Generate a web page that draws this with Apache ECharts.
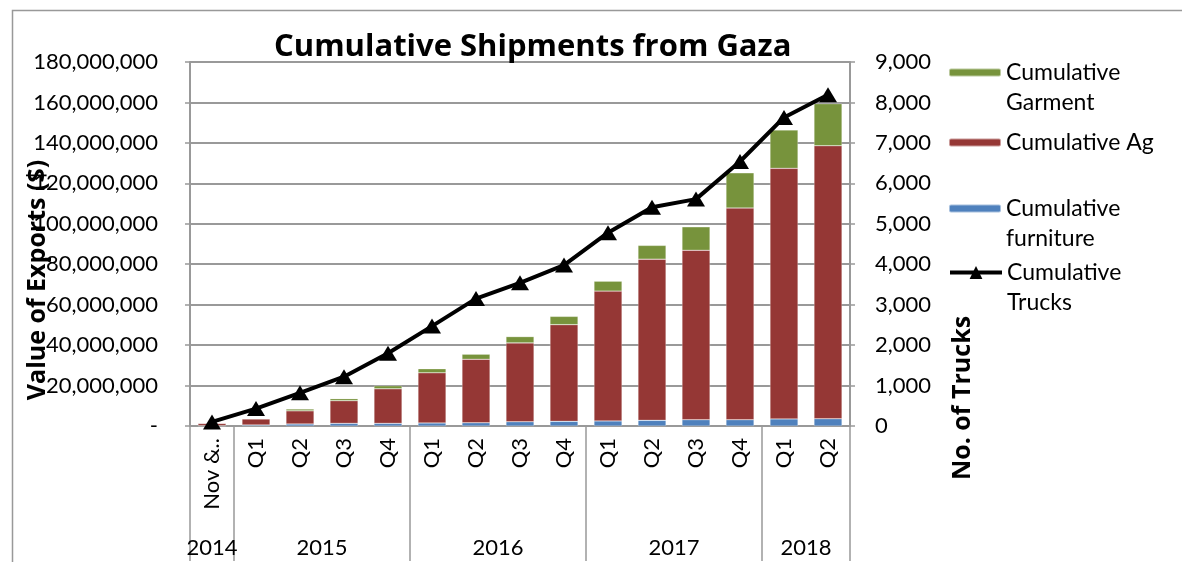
<!DOCTYPE html>
<html>
<head>
<meta charset="utf-8">
<title>Cumulative Shipments from Gaza</title>
<script src="https://cdn.jsdelivr.net/npm/echarts@6/dist/echarts.min.js"></script>
<style>
  html, body { margin: 0; padding: 0; background: #fff; }
  #chart { width: 1182px; height: 562px; }
</style>
</head>
<body>
<div id="chart"></div>
<script>
// quarters, grouped by year on a second axis row
const quarters = ["Nov & Dec", "Q1", "Q2", "Q3", "Q4", "Q1", "Q2", "Q3", "Q4", "Q1", "Q2", "Q3", "Q4", "Q1", "Q2"];
const years = ["2014", "2015", "2016", "2017", "2018"];
const yearFirstIndex = [0, 1, 5, 9, 13];
const yearSize = [1, 4, 4, 4, 2];

// values (USD)
const furniture = [200000, 500000, 1000000, 1300000, 1300000, 1500000, 1600000, 2100000, 2300000, 2500000, 2800000, 3100000, 3100000, 3500000, 3600000];
const ag = [1100000, 3000000, 6500000, 11200000, 17100000, 24800000, 31400000, 39000000, 47800000, 64200000, 79700000, 83800000, 104700000, 123900000, 135000000];
const garment = [100000, 100000, 900000, 1000000, 1500000, 2000000, 2500000, 3100000, 4100000, 4900000, 6800000, 11600000, 17400000, 19000000, 20800000];
const trucks = [100, 430, 820, 1220, 1800, 2470, 3150, 3540, 3980, 4780, 5410, 5610, 6540, 7630, 8190];

const GRID = "#999999";
const LABEL_FONT = "Lato";
const LEG_SIZE = 23;
const LEG_LINE = 30;

// year label sits at the middle of its group on a 0..15 value axis
const yearAt = {};
years.forEach((y, i) => {
  yearAt[yearFirstIndex[i] + yearSize[i] / 2] = y;
});

const chart = echarts.init(document.getElementById("chart"));

// legend text: first line lines up with the icon, second line hangs below it
function legendFor(name, top, itemHeight) {
  const parts = name.split(" ");
  const twoLines = parts[1] !== "Ag";
  return {
    data: [name],
    orient: "vertical",
    left: 948,
    top: top,
    padding: 0,
    itemWidth: 52,
    itemHeight: itemHeight || 8,
    itemGap: 5,
    selectedMode: false,
    formatter: (n) => (twoLines ? "{a|" + parts[0] + "}\n{b|" + parts[1] + "}" : "{b|" + n + "}"),
    textStyle: {
      fontFamily: LABEL_FONT,
      fontSize: LEG_SIZE,
      color: "#000",
      rich: {
        a: { fontFamily: LABEL_FONT, fontSize: LEG_SIZE, color: "#000", height: LEG_LINE, padding: [LEG_LINE, 0, 0, 0] },
        b: { fontFamily: LABEL_FONT, fontSize: LEG_SIZE, color: "#000", height: LEG_LINE },
      },
    },
  };
}

const trucksLegend = legendFor("Cumulative Trucks", 261, 16);
trucksLegend.lineStyle = { width: 4, color: "#000" };

const option = {
  animation: false,
  title: {
    text: "Cumulative Shipments from Gaza",
    left: 274,
    top: 32,
    padding: 0,
    textStyle: {
      fontFamily: "Open Sans",
      fontWeight: "bold",
      fontSize: 31,
      color: "#000",
    },
  },
  legend: [
    legendFor("Cumulative Garment", 61),
    legendFor("Cumulative Ag", 131),
    legendFor("Cumulative furniture", 197),
    trucksLegend,
  ],
  grid: {
    left: 190,
    right: 332,
    top: 62,
    bottom: 136,
    containLabel: false,
    outerBoundsMode: "none",
  },
  xAxis: [
    {
      type: "category",
      data: quarters,
      position: "bottom",
      axisLine: { lineStyle: { color: GRID, width: 2 } },
      axisTick: {
        show: true,
        length: 135,
        interval: (idx) => yearFirstIndex.includes(idx),
        lineStyle: { color: GRID, width: 1.5 },
      },
      axisLabel: {
        interval: 0,
        rotate: 90,
        margin: 12,
        color: "#000",
        fontFamily: LABEL_FONT,
        fontSize: 22,
        width: 74,
        overflow: "truncate",
        ellipsis: "..",
      },
      splitLine: { show: false },
    },
    {
      type: "value",
      min: 0,
      max: 15,
      interval: 0.5,
      position: "bottom",
      axisLine: { show: false },
      axisTick: { show: false },
      splitLine: { show: false },
      axisLabel: {
        margin: 111,
        color: "#000",
        fontFamily: LABEL_FONT,
        fontSize: 22,
        showMinLabel: true,
        showMaxLabel: true,
        formatter: (v) => yearAt[v] || "",
      },
    },
  ],
  yAxis: [
    {
      type: "value",
      min: 0,
      max: 180000000,
      interval: 20000000,
      position: "left",
      axisLine: { show: true, lineStyle: { color: GRID, width: 2 } },
      axisTick: { show: true, length: 5, lineStyle: { color: GRID, width: 1.5 } },
      axisLabel: {
        margin: 32,
        color: "#000",
        fontFamily: LABEL_FONT,
        fontSize: 22,
        formatter: (v) => (v === 0 ? "-" : v.toLocaleString("en-US")),
      },
      splitLine: { show: true, lineStyle: { color: GRID, width: 2 } },
    },
    {
      type: "value",
      min: 0,
      max: 9000,
      interval: 1000,
      position: "right",
      axisLine: { show: true, lineStyle: { color: GRID, width: 2 } },
      axisTick: { show: true, length: 5, lineStyle: { color: GRID, width: 1.5 } },
      axisLabel: {
        margin: 25,
        color: "#000",
        fontFamily: LABEL_FONT,
        fontSize: 22,
        formatter: (v) => v.toLocaleString("en-US"),
      },
      splitLine: { show: false },
    },
  ],
  series: [
    {
      name: "Cumulative furniture",
      type: "bar",
      stack: "exports",
      data: furniture,
      barWidth: 28,
      itemStyle: { color: "#4F81BD", borderColor: "rgba(255,255,255,0.5)", borderWidth: 0.5 },
    },
    {
      name: "Cumulative Ag",
      type: "bar",
      stack: "exports",
      data: ag,
      barWidth: 28,
      itemStyle: { color: "#953735", borderColor: "rgba(255,255,255,0.5)", borderWidth: 0.5 },
    },
    {
      name: "Cumulative Garment",
      type: "bar",
      stack: "exports",
      data: garment,
      barWidth: 28,
      itemStyle: { color: "#77933C", borderColor: "rgba(255,255,255,0.5)", borderWidth: 0.5 },
    },
    {
      name: "Cumulative Trucks",
      type: "line",
      yAxisIndex: 1,
      data: trucks,
      z: 5,
      symbol: "triangle",
      symbolSize: [18, 15],
      lineStyle: { color: "#000", width: 4 },
      itemStyle: { color: "#000" },
    },
  ],
  graphic: [
    {
      type: "rect",
      left: 10,
      top: 8,
      shape: { width: 1200, height: 600 },
      style: { fill: "none", stroke: GRID, lineWidth: 1.5 },
      silent: true,
    },
    {
      type: "text",
      x: 38,
      y: 280,
      rotation: Math.PI / 2,
      style: {
        text: "Value of Exports ($)",
        fontFamily: "Open Sans",
        fontWeight: "bold",
        fontSize: 25,
        fill: "#000",
        align: "center",
        verticalAlign: "middle",
      },
      z: 10,
    },
    {
      type: "text",
      x: 963,
      y: 398,
      rotation: Math.PI / 2,
      style: {
        text: "No. of Trucks",
        fontFamily: "Open Sans",
        fontWeight: "bold",
        fontSize: 25,
        fill: "#000",
        align: "center",
        verticalAlign: "middle",
      },
      z: 10,
    },
  ],
};

chart.setOption(option);
window.addEventListener("resize", () => chart.resize());
</script>
</body>
</html>
